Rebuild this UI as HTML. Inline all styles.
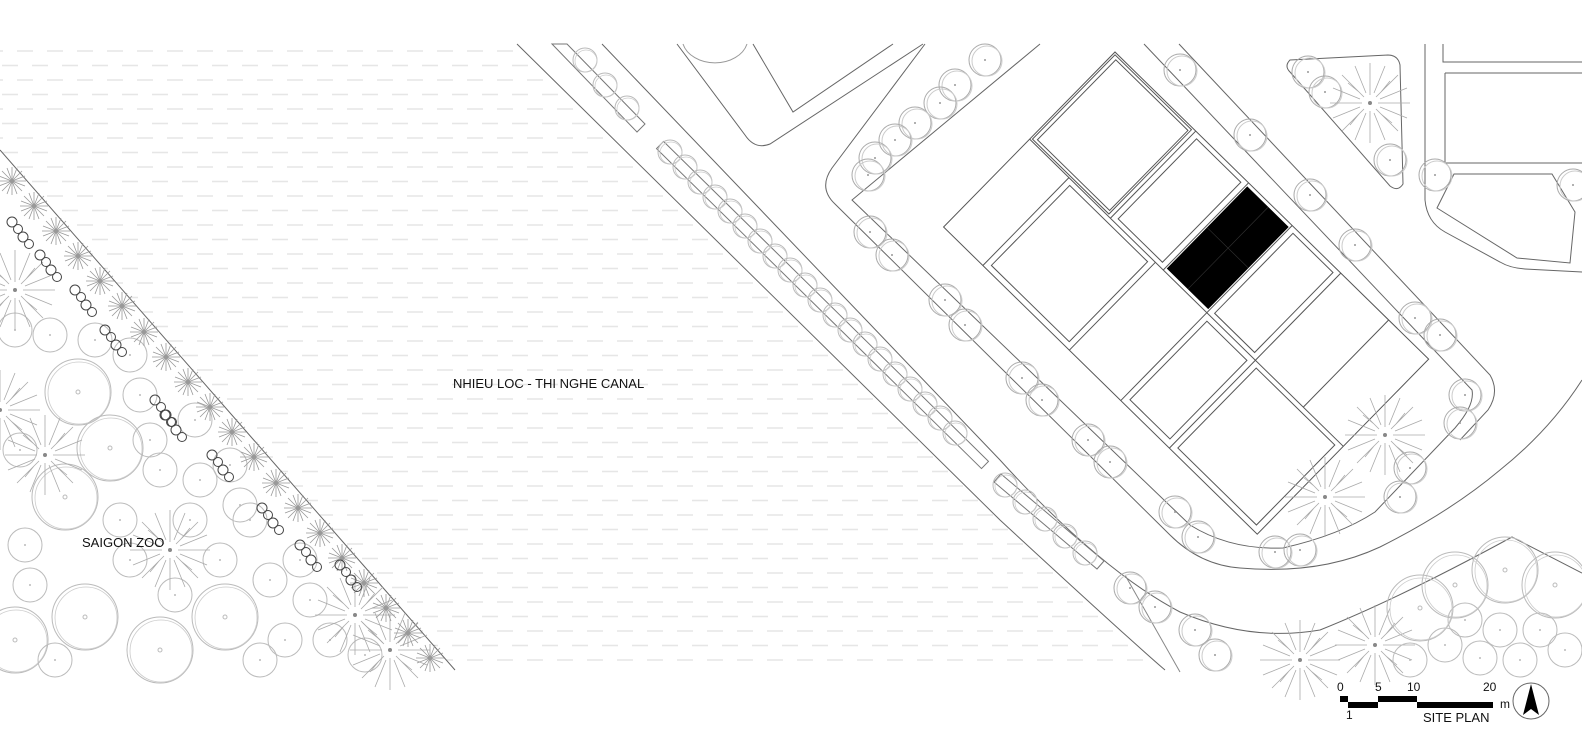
<!DOCTYPE html>
<html><head><meta charset="utf-8"><style>
html,body{margin:0;padding:0;background:#fff;overflow:hidden;width:1582px;height:734px;}
svg{display:block;}
text{font-family:"Liberation Sans",sans-serif;fill:#111;}
</style></head><body>
<svg width="1582" height="734" viewBox="0 0 1582 734" xmlns="http://www.w3.org/2000/svg">
<defs>
<pattern id="wd" x="0" y="0" width="60" height="29" patternUnits="userSpaceOnUse">
<path d="M2 7.5h16M32 7.5h16M17 22h16M47 22h13M0 22h3" stroke="#e6e6e6" stroke-width="1.5"/>
</pattern>
<clipPath id="canal"><polygon points="0,43 515,43 1000,520 1130,640 1165,670 455,670 0,150"/></clipPath>
<g id="tr"><circle r="16" fill="none" stroke="#aaa" stroke-width="1"/><circle cx="2" cy="1" r="15" fill="none" stroke="#ccc" stroke-width="1"/><circle r="1" fill="#999"/></g>
<g id="tp"><circle r="12" fill="none" stroke="#bbb" stroke-width="1"/><circle cx="1" cy="1" r="11" fill="none" stroke="#ccc" stroke-width="0.8"/></g>
<g id="zc"><circle r="17" fill="none" stroke="#bbb" stroke-width="1"/><circle r="1" fill="#bbb"/></g>
<g id="zb"><circle r="33" fill="none" stroke="#bbb" stroke-width="1"/><circle cx="1" cy="1" r="31" fill="none" stroke="#ccc" stroke-width="0.8"/><circle r="2" fill="none" stroke="#bbb"/></g>
<g id="sp" stroke="#aaa" stroke-width="0.8">
<path d="M0-40V-8M0 40V8M-40 0H-8M40 0H8M28-28L6-6M-28 28L-6 6M28 28L6 6M-28-28L-6-6M15-37L4-10M-15 37L-4 10M37 15L10 4M-37-15L-10-4M37-15L10-4M-37 15L-10 4M15 37L4 10M-15-37L-4-10M0-30V-14M20-22L11-11M-20 22L-11 11M22 20L11 11M-22-20L-11-11"/>
<circle r="2" fill="#888" stroke="none"/></g>
<g id="ss" stroke="#999" stroke-width="0.8">
<path d="M0-14V14M-14 0H14M-10-10L10 10M-10 10L10-10M-5-13L5 13M5-13L-5 13M-13-5L13 5M-13 5L13-5"/></g>
<g id="ch" fill="none" stroke="#444" stroke-width="1"><circle cx="0" cy="0" r="5"/><circle cx="6" cy="7" r="4.5"/><circle cx="11" cy="15" r="5"/><circle cx="17" cy="22" r="4.5"/></g>
</defs>

<rect x="0" y="43" width="1200" height="630" fill="url(#wd)" clip-path="url(#canal)"/>

<g fill="none" stroke="#666" stroke-width="1">
<path d="M0 150 L455 670"/>
<path d="M517 44 L1000 520 Q1130 640 1165 670"/>
<path d="M602 44 L1000 460 Q1100 570 1180 612 Q1250 642 1320 630 Q1400 598 1512 537 L1582 573"/>
<path d="M677 44 L745 135 Q755 150 770 144 L923 44"/>
<path d="M753 44 L793 112 L893 44"/>
<path d="M683 44 A33 25 0 0 0 747 44" stroke="#999"/>
<path d="M925 44 L832 168 Q818 188 835 204 L1170 535 Q1200 565 1240 568 Q1320 575 1380 547 Q1450 512 1500 470 Q1550 430 1582 380"/>
<path d="M1040 44 L852 200 L1190 525 Q1230 550 1283 548 Q1340 535 1375 512 L1455 428 Q1475 405 1472 390 L1144 44"/>
<path d="M1179 44 L1490 375 Q1500 392 1488 410 L1460 440"/>
<path d="M1290 60 Q1284 66 1290 72 L1390 186 Q1398 192 1403 184 L1400 65 Q1398 55 1388 55 Z"/>
<path d="M1425 44 L1425 200 Q1427 222 1445 232 L1500 262 Q1510 268 1525 269 L1582 272"/>
<path d="M1443 44 L1443 62 L1582 62"/>
<path d="M1445 73 L1582 73 M1445 73 L1445 163 L1582 163"/>
<path d="M1454 174 L1552 174 L1575 212 L1570 263 L1517 258 L1437 208 Z"/>
<path d="M1125 575 L1180 672" stroke="#888"/>
</g>

<g transform="translate(1115,52) rotate(44.4)" fill="none" stroke="#555" stroke-width="1">
<rect x="0" y="0" width="439" height="245"/>
<path d="M0 122 H439"/>
<path d="M113 0V122M187 0V122M248 0V122M316 0V122M383 0V122"/>
<path d="M55 122V245M176 122V245M248 122V245M316 122V245"/>
<rect x="6" y="5" width="101" height="112"/>
<rect x="2" y="2" width="107" height="118"/>
<rect x="119" y="5" width="62" height="112"/>
<rect x="254" y="5" width="56" height="112"/>
<rect x="322" y="127" width="110" height="112"/>
<rect x="61" y="127" width="109" height="112"/>
<rect x="254" y="128" width="56" height="110" />
<rect x="189" y="4" width="57" height="114" fill="#000" stroke="#000"/>
<path d="M189 61H246M218 4V118" stroke="#333" stroke-width="0.6"/>
</g>

<g fill="none" stroke="#777" stroke-width="1">
<polygon points="663.5,141.4 988.5,461.4 981.5,468.6 656.5,148.6"/>
<polygon points="1001,474 1104,561 1097,569 994,482"/>
<polygon points="567,44 645,124 637,132 552,44"/>
</g>
<g>
<use href="#tp" x="585" y="60"/><use href="#tp" x="605" y="85"/><use href="#tp" x="627" y="108"/>
<use href="#tp" x="670" y="152"/><use href="#tp" x="685" y="167"/><use href="#tp" x="700" y="182"/><use href="#tp" x="715" y="197"/><use href="#tp" x="730" y="211"/><use href="#tp" x="745" y="226"/><use href="#tp" x="760" y="241"/><use href="#tp" x="775" y="256"/><use href="#tp" x="790" y="270"/><use href="#tp" x="805" y="285"/><use href="#tp" x="820" y="300"/><use href="#tp" x="835" y="315"/><use href="#tp" x="850" y="330"/><use href="#tp" x="865" y="344"/><use href="#tp" x="880" y="359"/><use href="#tp" x="895" y="374"/><use href="#tp" x="910" y="389"/><use href="#tp" x="925" y="404"/><use href="#tp" x="940" y="418"/><use href="#tp" x="955" y="433"/>
<use href="#tp" x="1005" y="485"/><use href="#tp" x="1025" y="502"/><use href="#tp" x="1045" y="519"/><use href="#tp" x="1065" y="536"/><use href="#tp" x="1085" y="553"/>
<use href="#tr" x="1130" y="588"/><use href="#tr" x="1155" y="607"/><use href="#tr" x="1195" y="630"/><use href="#tr" x="1215" y="655"/>
<use href="#tr" x="985" y="60"/><use href="#tr" x="955" y="85"/><use href="#tr" x="940" y="103"/><use href="#tr" x="915" y="123"/><use href="#tr" x="895" y="140"/><use href="#tr" x="875" y="158"/><use href="#tr" x="868" y="175"/>
<use href="#tr" x="870" y="232"/><use href="#tr" x="892" y="255"/><use href="#tr" x="945" y="300"/><use href="#tr" x="965" y="325"/><use href="#tr" x="1022" y="378"/><use href="#tr" x="1042" y="400"/><use href="#tr" x="1088" y="440"/><use href="#tr" x="1110" y="462"/><use href="#tr" x="1175" y="512"/><use href="#tr" x="1198" y="537"/><use href="#tr" x="1275" y="552"/><use href="#tr" x="1300" y="550"/>
<use href="#tr" x="1180" y="70"/><use href="#tr" x="1250" y="135"/><use href="#tr" x="1310" y="195"/><use href="#tr" x="1355" y="245"/><use href="#tr" x="1415" y="318"/><use href="#tr" x="1440" y="335"/><use href="#tr" x="1465" y="395"/><use href="#tr" x="1460" y="423"/><use href="#tr" x="1410" y="468"/><use href="#tr" x="1400" y="497"/>
<use href="#tr" x="1308" y="72"/><use href="#tr" x="1325" y="92"/><use href="#tr" x="1390" y="160"/><use href="#tr" x="1435" y="175"/><use href="#tr" x="1573" y="185"/>
<use href="#sp" x="1370" y="103"/><use href="#sp" x="1385" y="435"/><use href="#sp" x="1325" y="497"/><use href="#sp" x="1300" y="660"/><use href="#sp" x="1375" y="645"/>
</g>
<g>
<use href="#zb" x="1505" y="570"/><use href="#zb" x="1555" y="585"/><use href="#zb" x="1455" y="585"/><use href="#zc" x="1465" y="620"/><use href="#zc" x="1500" y="630"/><use href="#zc" x="1540" y="630"/><use href="#zc" x="1445" y="645"/><use href="#zc" x="1480" y="658"/><use href="#zc" x="1520" y="660"/><use href="#zb" x="1420" y="608"/><use href="#zc" x="1565" y="650"/><use href="#zc" x="1410" y="660"/>
</g>

<g>
<use href="#zb" x="78" y="392"/><use href="#zb" x="110" y="448"/><use href="#zb" x="65" y="497"/><use href="#zb" x="225" y="617"/><use href="#zb" x="85" y="617"/><use href="#zb" x="15" y="640"/><use href="#zb" x="160" y="650"/>
<use href="#zc" x="15" y="330"/><use href="#zc" x="50" y="335"/><use href="#zc" x="95" y="340"/><use href="#zc" x="130" y="355"/><use href="#zc" x="140" y="395"/><use href="#zc" x="150" y="440"/><use href="#zc" x="195" y="420"/><use href="#zc" x="160" y="470"/><use href="#zc" x="200" y="480"/><use href="#zc" x="230" y="465"/><use href="#zc" x="190" y="520"/><use href="#zc" x="250" y="520"/><use href="#zc" x="220" y="560"/><use href="#zc" x="270" y="580"/><use href="#zc" x="310" y="600"/><use href="#zc" x="330" y="640"/><use href="#zc" x="285" y="640"/><use href="#zc" x="20" y="450"/><use href="#zc" x="25" y="545"/><use href="#zc" x="30" y="585"/><use href="#zc" x="130" y="560"/><use href="#zc" x="175" y="595"/><use href="#zc" x="365" y="655"/><use href="#zc" x="240" y="505"/><use href="#zc" x="120" y="520"/><use href="#zc" x="300" y="560"/><use href="#zc" x="55" y="660"/><use href="#zc" x="260" y="660"/>
<use href="#sp" x="170" y="550"/><use href="#sp" x="15" y="290"/><use href="#sp" x="45" y="455"/><use href="#sp" x="355" y="615"/><use href="#sp" x="390" y="650"/><use href="#sp" x="0" y="410"/>
<use href="#ss" x="12" y="181"/><use href="#ss" x="34" y="206"/><use href="#ss" x="56" y="231"/><use href="#ss" x="78" y="256"/><use href="#ss" x="100" y="281"/><use href="#ss" x="122" y="306"/><use href="#ss" x="144" y="332"/><use href="#ss" x="166" y="357"/><use href="#ss" x="188" y="382"/><use href="#ss" x="210" y="407"/><use href="#ss" x="232" y="432"/><use href="#ss" x="254" y="457"/><use href="#ss" x="276" y="483"/><use href="#ss" x="298" y="508"/><use href="#ss" x="320" y="533"/><use href="#ss" x="342" y="558"/><use href="#ss" x="364" y="583"/><use href="#ss" x="386" y="608"/><use href="#ss" x="408" y="633"/><use href="#ss" x="430" y="658"/>
<use href="#ch" x="12" y="222"/><use href="#ch" x="40" y="255"/><use href="#ch" x="75" y="290"/><use href="#ch" x="105" y="330"/><use href="#ch" x="155" y="400"/><use href="#ch" x="165" y="415"/><use href="#ch" x="212" y="455"/><use href="#ch" x="262" y="508"/><use href="#ch" x="300" y="545"/><use href="#ch" x="340" y="565"/>
</g>

<text x="453" y="388" font-size="13">NHIEU LOC - THI NGHE CANAL</text>
<text x="82" y="547" font-size="13">SAIGON ZOO</text>

<g font-size="12">
<text x="1337" y="691">0</text><text x="1375" y="691">5</text><text x="1407" y="691">10</text><text x="1483" y="691">20</text>
<text x="1500" y="708">m</text><text x="1346" y="719">1</text>
<text x="1423" y="722" font-size="13">SITE PLAN</text>
</g>
<g fill="#000">
<rect x="1340" y="696" width="8" height="6"/><rect x="1348" y="702" width="30" height="6"/><rect x="1378" y="696" width="39" height="6"/><rect x="1417" y="702" width="76" height="6"/>
</g>
<circle cx="1531" cy="701" r="18" fill="none" stroke="#666"/>
<path d="M1531 684 L1539 715 L1531 709 L1523 715 Z" fill="#000"/>
</svg>
</body></html>
